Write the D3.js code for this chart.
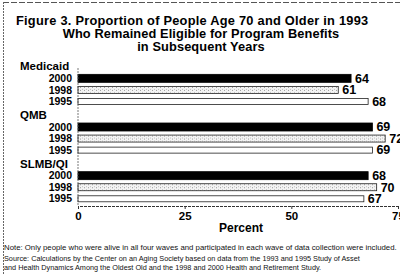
<!DOCTYPE html>
<html>
<head>
<meta charset="utf-8">
<script src="https://cdn.jsdelivr.net/npm/d3@7"></script>
<style>
  body { margin: 0; background: #fff; }
  svg { display: block; font-family: "Liberation Sans", Arial, sans-serif; }
</style>
</head>
<body>
<div id="chart"></div>
<script>
// --- chart data ---
const programs = ["Medicaid", "QMB", "SLMB/QI"];
const years = ["2000", "1998", "1995"];
const medicaidValues = [64, 61, 68];
const qmbValues = [69, 72, 69];
const slmbValues = [68, 70, 67];
const xTicks = [0, 25, 50, 75];
const titleLines = [
    "Figure 3. Proportion of People Age 70 and Older in 1993",
    "Who Remained Eligible for Program Benefits",
    "in Subsequent Years"
];
const noteLines = [
    "Note: Only people who were alive in all four waves and participated in each wave of data collection were included.",
    "Source: Calculations by the Center on an Aging Society based on data from the 1993 and 1995 Study of Asset",
    "and Health Dynamics Among the Oldest Old and the 1998 and 2000 Health and Retirement Study."
];

const valuesByProgram = [medicaidValues, qmbValues, slmbValues];
const rows = programs.map((p, i) => ({
    program: p,
    bars: years.map((y, j) => ({ year: y, value: valuesByProgram[i][j] }))
}));

const W = 400, H = 274;
const svg = d3.select("#chart").append("svg")
    .attr("width", W)
    .attr("height", H);

// stipple pattern for the 1998 bars
const defs = svg.append("defs");
const pat = defs.append("pattern")
    .attr("id", "stipple")
    .attr("width", 4).attr("height", 3)
    .attr("patternUnits", "userSpaceOnUse");
pat.append("rect").attr("width", 4).attr("height", 3).attr("fill", "#f4f4f4");
pat.append("rect").attr("x", 0).attr("y", 0).attr("width", 1).attr("height", 1).attr("fill", "#9a9a9a");
pat.append("rect").attr("x", 2).attr("y", 2).attr("width", 1).attr("height", 1).attr("fill", "#c0c0c0");

// frame edges (scan border on top and left)
svg.append("line")
    .attr("x1", 3).attr("x2", W).attr("y1", 2.5).attr("y2", 2.5)
    .attr("stroke", "#555").attr("stroke-width", 1).attr("stroke-dasharray", "6,2");
svg.append("line")
    .attr("x1", 3.5).attr("x2", 3.5).attr("y1", 2).attr("y2", H)
    .attr("stroke", "#666").attr("stroke-width", 1).attr("stroke-dasharray", "2,1");

// title
svg.append("g").selectAll("text")
    .data(titleLines)
    .enter().append("text")
    .attr("x", (d, i) => i === 0 ? 16 : 201)
    .attr("y", (d, i) => 25 + i * 12.8)
    .attr("text-anchor", (d, i) => i === 0 ? "start" : "middle")
    .attr("font-size", 12.8)
    .attr("font-weight", "bold")
    .attr("letter-spacing", (d, i) => i === 0 ? 0.25 : 0.1)
    .text(d => d);

// scales
const x = d3.scaleLinear().domain([0, 75]).range([78, 398]);
const yGroup = d3.scaleBand().domain(programs).range([61, 207]);
const yRow = d3.scaleBand().domain(["label"].concat(years)).range([0, yGroup.bandwidth() * 0.95]);

const barStyle = {
    "2000": { fill: "#000", stroke: "#000", h: 8 },
    "1998": { fill: "url(#stipple)", stroke: "#222", h: 7 },
    "1995": { fill: "#fff", stroke: "#222", h: 6 }
};

const groups = svg.append("g").selectAll("g")
    .data(rows)
    .enter().append("g")
    .attr("transform", d => `translate(0,${yGroup(d.program)})`);

groups.append("text")
    .attr("x", 20)
    .attr("y", yRow("label") + yRow.bandwidth() / 2 - 0.5)
    .attr("dy", "0.35em")
    .attr("font-size", 11.5)
    .attr("font-weight", "bold")
    .text(d => d.program);

const bar = groups.selectAll("g.bar")
    .data(d => d.bars)
    .enter().append("g")
    .attr("class", "bar")
    .attr("transform", d => `translate(0,${yRow(d.year) + yRow.bandwidth() / 2})`);

bar.append("text")
    .attr("x", 72)
    .attr("dy", "0.35em")
    .attr("text-anchor", "end")
    .attr("font-size", 10.5)
    .attr("font-weight", "bold")
    .text(d => d.year);

bar.append("rect")
    .attr("x", x(0))
    .attr("y", d => -barStyle[d.year].h / 2)
    .attr("width", d => x(d.value) - x(0))
    .attr("height", d => barStyle[d.year].h)
    .attr("fill", d => barStyle[d.year].fill)
    .attr("stroke", d => barStyle[d.year].stroke)
    .attr("stroke-width", 0.8);

bar.append("text")
    .attr("x", d => x(d.value) + 4)
    .attr("dy", "0.35em")
    .attr("font-size", 12.5)
    .attr("font-weight", "bold")
    .text(d => d.value);

// vertical baseline
svg.append("line")
    .attr("x1", x(0)).attr("x2", x(0))
    .attr("y1", 68).attr("y2", 206)
    .attr("stroke", "#555").attr("stroke-width", 0.8).attr("stroke-dasharray", "2,1");

// x axis
const axis = svg.append("g")
    .attr("transform", "translate(0,206)")
    .call(d3.axisBottom(x).tickValues(xTicks).tickSize(3).tickPadding(3));
axis.select(".domain").attr("stroke", "#333").attr("stroke-dasharray", "3,1");
axis.selectAll("line").attr("stroke", "#333");
axis.selectAll("text")
    .attr("font-family", "Liberation Sans, Arial, sans-serif")
    .attr("font-size", 11.5)
    .attr("font-weight", "bold")
    .attr("fill", "#000");

svg.append("text")
    .attr("x", 241)
    .attr("y", 232)
    .attr("text-anchor", "middle")
    .attr("font-size", 12)
    .attr("font-weight", "bold")
    .text("Percent");

// notes
svg.append("g").selectAll("text")
    .data(noteLines)
    .enter().append("text")
    .attr("x", 4)
    .attr("y", (d, i) => 250 + (i === 0 ? 0 : 11 + (i - 1) * 9))
    .attr("font-size", (d, i) => i === 0 ? 7.8 : 7.3)
    .attr("fill", "#111")
    .text(d => d);
</script>
</body>
</html>
